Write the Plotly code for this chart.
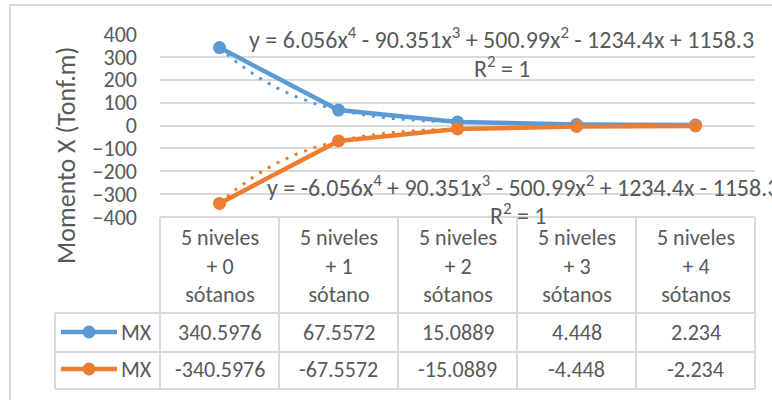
import numpy as np
import plotly.graph_objects as go

# data
categories = ["5 niveles<br>+ 0<br>sótanos", "5 niveles<br>+ 1<br>sótano",
              "5 niveles<br>+ 2<br>sótanos", "5 niveles<br>+ 3<br>sótanos",
              "5 niveles<br>+ 4<br>sótanos"]
mx_pos = [340.5976, 67.5572, 15.0889, 4.448, 2.234]
mx_neg = [-340.5976, -67.5572, -15.0889, -4.448, -2.234]
mx_pos_txt = ["340.5976", "67.5572", "15.0889", "4.448", "2.234"]
mx_neg_txt = ["-340.5976", "-67.5572", "-15.0889", "-4.448", "-2.234"]
eq_pos = "y = 6.056x<sup>4</sup> - 90.351x<sup>3</sup> + 500.99x<sup>2</sup> - 1234.4x + 1158.3"
eq_neg = "y = -6.056x<sup>4</sup> + 90.351x<sup>3</sup> - 500.99x<sup>2</sup> + 1234.4x - 1158.3"
r2_txt = "R<sup>2</sup> = 1"

BLUE = "#5B9BD5"
ORANGE = "#ED7D31"
GRAY = "#595959"
GRID = "#D9D9D9"
FONT = "Calibri, Carlito, Lato, sans-serif"
FS = 22

W, H = 772, 400
L, R, T, B = 160, 17, 34, 183


def pxx(p):
    return (p - L) / (W - L - R)


def pxy(p):
    return (H - B - p) / (H - T - B)


xs = np.arange(1, len(mx_pos) + 1)
xf = np.linspace(1, len(mx_pos), 200)
fit_pos = np.polyval(np.polyfit(xs, mx_pos, 4), xf)
fit_neg = np.polyval(np.polyfit(xs, mx_neg, 4), xf)

fig = go.Figure()
fig.add_trace(go.Scatter(x=xs, y=mx_pos, mode="lines+markers", name="MX",
                         line=dict(color=BLUE, width=4.5),
                         marker=dict(size=13, color=BLUE)))
fig.add_trace(go.Scatter(x=xs, y=mx_neg, mode="lines+markers", name="MX",
                         line=dict(color=ORANGE, width=4.5),
                         marker=dict(size=13, color=ORANGE)))
fig.add_trace(go.Scatter(x=xf, y=fit_pos, mode="lines",
                         line=dict(color=BLUE, width=3, dash="3px,7px")))
fig.add_trace(go.Scatter(x=xf, y=fit_neg, mode="lines",
                         line=dict(color=ORANGE, width=3, dash="3px,7px")))

shapes = []
ln = dict(color=GRID, width=2)
# outer chart border
shapes.append(dict(type="rect", xref="paper", yref="paper",
                   x0=pxx(10), x1=pxx(800), y0=pxy(5), y1=pxy(420),
                   line=dict(color=GRID, width=2)))
# data table grid
col_edges = [L + i * (W - L - R) / 5 for i in range(6)]
for cx in col_edges:
    shapes.append(dict(type="line", xref="paper", yref="paper",
                       x0=pxx(cx), x1=pxx(cx), y0=pxy(217), y1=pxy(389), line=ln))
shapes.append(dict(type="line", xref="paper", yref="paper",
                   x0=pxx(55), x1=pxx(55), y0=pxy(313), y1=pxy(389), line=ln))
shapes.append(dict(type="line", xref="paper", yref="paper",
                   x0=pxx(L), x1=pxx(W - R), y0=pxy(217), y1=pxy(217), line=ln))
for ry in [313, 352, 389]:
    shapes.append(dict(type="line", xref="paper", yref="paper",
                       x0=pxx(55), x1=pxx(W - R), y0=pxy(ry), y1=pxy(ry), line=ln))
# legend keys in table
for ky, col in [(332, BLUE), (369, ORANGE)]:
    shapes.append(dict(type="line", xref="paper", yref="paper",
                       x0=pxx(61), x1=pxx(117), y0=pxy(ky), y1=pxy(ky),
                       line=dict(color=col, width=4.5)))
    shapes.append(dict(type="circle", xref="paper", yref="paper",
                       xsizemode="pixel", ysizemode="pixel",
                       xanchor=pxx(89), yanchor=pxy(ky),
                       x0=-6.5, x1=6.5, y0=-6.5, y1=6.5,
                       fillcolor=col, line=dict(color=col, width=0)))

ann = []
tf = dict(family=FONT, size=FS, color=GRAY)
ef = dict(family=FONT, size=24, color=GRAY)


def note(x, y, text, xref="paper", xanchor="center", **kw):
    ann.append(dict(x=x, xref=xref, y=pxy(y), yref="paper", text=text,
                    xanchor=xanchor, yanchor="middle", showarrow=False,
                    font=kw.pop("font", tf), **kw))


for i, c in enumerate(categories):
    note(xs[i], 266, c, xref="x", align="center")
    note(xs[i], 332, mx_pos_txt[i], xref="x")
    note(xs[i], 369, mx_neg_txt[i], xref="x")
for ky in [332, 369]:
    note(pxx(119), ky, "MX", xanchor="left")
# trendline labels
note(pxx(501), 38, eq_pos, font=ef)
note(pxx(502), 67, r2_txt, font=ef)
note(pxx(265), 186, eq_neg, xanchor="left", font=ef)
note(pxx(518), 214, r2_txt, font=ef)
# y axis title
note(pxx(66), 156, "Momento X (Tonf.m)", textangle=-90,
     font=dict(family=FONT, size=26, color=GRAY))

fig.update_layout(
    width=W, height=H,
    margin=dict(l=L, r=R, t=T, b=B),
    paper_bgcolor="white", plot_bgcolor="white",
    showlegend=False,
    shapes=shapes, annotations=ann,
    font=dict(family=FONT, color=GRAY),
    xaxis=dict(range=[0.5, 5.5], showticklabels=False, showgrid=False,
               zeroline=False, fixedrange=True),
    yaxis=dict(range=[-400, 400], dtick=100, showgrid=True, gridcolor=GRID,
               gridwidth=1.5, zeroline=False, ticklabelstandoff=22,
               tickfont=dict(family=FONT, size=FS, color=GRAY)),
)

fig.write_html("out.html", config={"displayModeBar": False},
               post_script="document.body.style.margin='0';")
